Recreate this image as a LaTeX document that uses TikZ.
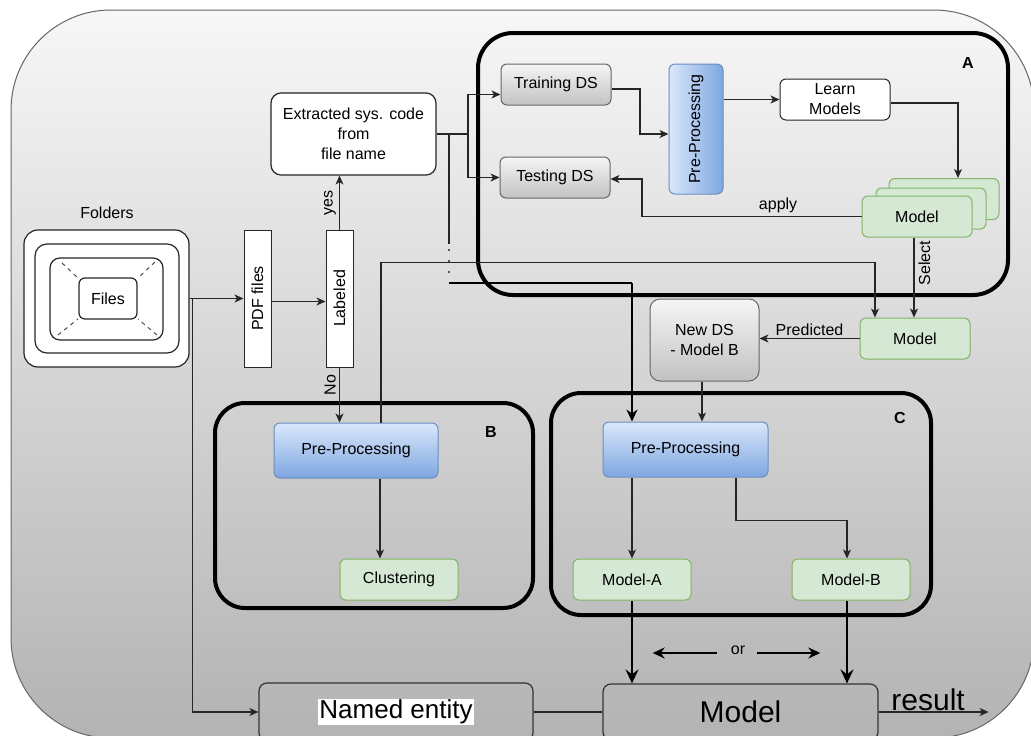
\documentclass[tikz,border=0pt]{standalone}
\usepackage{fontspec}
\setmainfont{Liberation Sans}
\usepackage{graphicx}
\usetikzlibrary{arrows.meta}
\definecolor{bluetop}{HTML}{DAE8FC}
\definecolor{bluebot}{HTML}{7EA6E0}
\definecolor{blueline}{HTML}{6C8EBF}
\definecolor{greenfill}{HTML}{D5E8D4}
\definecolor{greenline}{HTML}{82B366}
\definecolor{graytop}{HTML}{F5F5F5}
\definecolor{graybot}{HTML}{C2C2C2}
\definecolor{grayline}{HTML}{666666}
\definecolor{bgtop}{HTML}{F7F7F7}
\definecolor{bgbot}{HTML}{B3B3B3}
\setlength{\fboxsep}{1pt}
\begin{document}
\begin{tikzpicture}[x=1pt,y=-1pt,
  font=\fontsize{16}{20}\selectfont,
  base/.style={inner sep=2pt, align=center, text=black},
  wbox/.style={base, draw=black!85, fill=white, line width=1.2pt},
  gbox/.style={base, draw=grayline, top color=graytop, bottom color=graybot, rounded corners=6pt, line width=1pt},
  bbox/.style={base, draw=blueline, top color=bluetop, bottom color=bluebot, rounded corners=6pt, line width=1pt},
  bboxh/.style={base, draw=blueline, left color=bluetop, right color=bluebot, rounded corners=6pt, line width=1pt},
  grbox/.style={base, draw=greenline, fill=greenfill, rounded corners=6pt, line width=1pt},
  group/.style={draw=black, line width=4pt, inner sep=0pt},
  plainline/.style={draw=black!85, line width=1.2pt},
  conn/.style={draw=black!85, line width=1.2pt, -{Stealth[length=9pt,width=8pt,inset=2.5pt]}},
  thickconn/.style={draw=black, line width=2.4pt, -{Stealth[length=14pt,width=13pt,inset=5pt]}},
  midconn/.style={draw=black, line width=1.8pt, -{Stealth[length=12pt,width=11pt,inset=4pt]}},
  grplabel/.style={font=\fontsize{16}{20}\selectfont\bfseries, inner sep=1pt}
]
\clip (0,0) rectangle (1031,736);
% background
\path[draw=grayline, line width=1pt, top color=bgtop, bottom color=bgbot, rounded corners=100pt] (11,10) rectangle (1034,738);

% groups
\node[group, rounded corners=35pt, minimum width=530, minimum height=262] (grpA) at (743,164) {};
\node[group, rounded corners=30pt, minimum width=318, minimum height=205] (grpB) at (374,505.5) {};
\node[group, rounded corners=30pt, minimum width=380, minimum height=222] (grpC) at (741,504) {};
\node[grplabel] (labA) at (968,63) {A};
\node[grplabel] (labB) at (491,432) {B};
\node[grplabel] (labC) at (900,418) {C};

% folders
\node[base] (folders) at (107,213) {Folders};
\node[wbox, rounded corners=14pt, minimum width=165, minimum height=137] (fo) at (106.5,298.5) {};
\node[wbox, rounded corners=12pt, minimum width=144, minimum height=109] (fm) at (107,298.5) {};
\node[wbox, rounded corners=10pt, minimum width=113, minimum height=82] (fi) at (106.5,299) {};
\node[wbox, rounded corners=6pt, minimum width=58, minimum height=41] (files) at (108,298.5) {Files};
\begin{scope}[draw=black!75, line width=0.9pt, dash pattern=on 4pt off 4pt]
\draw (62,263) -- (78,278);
\draw (155,262) -- (138,278);
\draw (58,335) -- (78,319);
\draw (157,335) -- (138,319);
\end{scope}

\node[wbox, line width=1pt, inner sep=0pt, minimum width=27, minimum height=137] (pdf) at (257.5,298.5) {\rotatebox{90}{PDF files}};
\node[wbox, line width=1pt, inner sep=0pt, minimum width=27, minimum height=137] (lab) at (339.5,298.5) {\rotatebox{90}{Labeled}};
\node[wbox, rounded corners=10pt, minimum width=165, minimum height=82] (ext) at (353.5,134) {Extracted sys. code\\from\\file name};

% A content
\node[gbox, minimum width=110, minimum height=41] (train) at (556,84.5) {Training DS};
\node[gbox, minimum width=110, minimum height=41] (test) at (555,177.5) {Testing DS};
\node[bboxh, inner sep=0pt, minimum width=54, minimum height=130] (preA) at (696,129) {\rotatebox{90}{Pre-Processing}};
\node[wbox, line width=1pt, rounded corners=6pt, minimum width=110, minimum height=41, inner sep=1pt] (learn) at (835,99.5) {Learn\\Models};
\node[grbox, minimum width=110, minimum height=41] (m3) at (944,199) {};
\node[grbox, minimum width=110, minimum height=41] (m2) at (931,208.5) {};
\node[grbox, minimum width=110, minimum height=41] (m1) at (917,216.5) {Model};
\node[grbox, minimum width=110, minimum height=41] (modelL) at (915,338.5) {Model};
\node[gbox, rounded corners=10pt, minimum width=109, minimum height=82] (newds) at (704.5,340) {New DS\\- Model B};

% B content
\node[bbox, minimum width=164, minimum height=55] (preB) at (356,450.5) {Pre-Processing};
\node[grbox, minimum width=118, minimum height=41] (clus) at (399,579.5) {Clustering};

% C content
\node[bbox, minimum width=165, minimum height=55] (preC) at (685.5,449.5) {Pre-Processing};
\node[grbox, minimum width=118, minimum height=41] (modelA) at (632,579.5) {Model-A};
\node[grbox, minimum width=118, minimum height=41] (modelB) at (851,579.5) {Model-B};

% bottom
\node[draw=black!80, line width=1.2pt, rounded corners=8pt, minimum width=274, minimum height=58] (named) at (396,712) {\fontsize{26}{30}\selectfont\colorbox{white}{Named entity}};
\node[draw=black!80, line width=1.2pt, rounded corners=8pt, minimum width=275, minimum height=56] (mb) at (740.5,712) {\fontsize{30}{34}\selectfont Model};
\node[base] (or) at (738,650) {or};

% connectors
\draw[conn] (fo.east) -- (pdf.west);
\draw[conn] ([xshift=3pt]fo.east) |- (named.west);
\draw[conn] ([yshift=-3pt]pdf.east) -- ([yshift=-3pt]lab.west);
\draw[conn] (lab.north) -- node[pos=0.5, anchor=south, rotate=90, inner sep=3pt] {yes} (lab.north |- ext.south);
\draw[conn] (lab.south) -- node[pos=0.32, anchor=south, rotate=90, inner sep=3pt] {No} (lab.south |- preB.north);

\coordinate (sp) at (468,134);
\draw[plainline] (ext.east) -- (sp);
\draw[conn] (sp) |- ([yshift=-10pt]train.west);
\draw[conn] (sp) |- (test.west);

\coordinate (d1) at (449,134);
\coordinate (d2) at (449,244);
\coordinate (d3) at (449,250);
\coordinate (d4) at (449,283);
\coordinate (d5) at (632,283);
\draw[plainline] (d1) -- (d2);
\draw[draw=black!85, line width=2.4pt, line cap=round, dash pattern=on 0pt off 11pt] (d3) -- (d4);
\draw[draw=black, line width=1.6pt] (d4) -- (d5);
\draw[midconn, line width=2pt] (d5) -- (d5 |- preC.north);

\draw[conn] ([xshift=25pt]preB.north) -- ++(0,-160) -| ([xshift=-40pt]modelL.north);

\draw[conn] ([yshift=-4.5pt]train.east) -- (640,89) |- ([yshift=-5pt]preA.west);
\draw[conn] (preA.east |- learn.west) -- (learn.west);
\draw[conn] ([yshift=-3.5pt]learn.east) -| ([xshift=14pt]m3.north);
\draw[conn] (m1.west) -- node[above, pos=0.38, inner sep=3pt] {apply} (642,216.5) |- ([yshift=-1.5pt]test.east);
\draw[conn] ([xshift=-3pt]m1.south) -- node[pos=0.32, anchor=north, rotate=90, inner sep=4pt] {Select} ([xshift=-1pt]modelL.north);
\draw[conn] (modelL.west) -- node[above, pos=0.5, inner sep=2pt] {Predicted} (newds.east |- modelL.west);
\draw[conn] ([xshift=-2.5pt]newds.south) -- ([xshift=-2.5pt]newds.south |- preC.north);

\draw[conn] ([xshift=24pt]preB.south) -- ([xshift=24pt]preB.south |- clus.north);
\draw[conn] (preC.south -| modelA.north) -- (modelA.north);
\draw[conn] ([xshift=50.5pt]preC.south) -- ++(0,43) -| ([xshift=-4pt]modelB.north);

\draw[thickconn] (modelA.south) -- (modelA.south |- mb.north);
\draw[thickconn] ([xshift=-4pt]modelB.south) -- ([xshift=-4pt]modelB.south |- mb.north);
\draw[midconn] ([shift={(-12,3)}]or.west) -- ++(-64,0);
\draw[midconn] ([shift={(10,3)}]or.east) -- ++(63,0);

\draw[plainline] (named.east) -- (mb.west);
\draw[conn] (mb.east) -- node[above, pos=0.45, font=\fontsize{30}{34}\selectfont, inner sep=1pt] {result} ++(110,0);
\end{tikzpicture}
\end{document}
